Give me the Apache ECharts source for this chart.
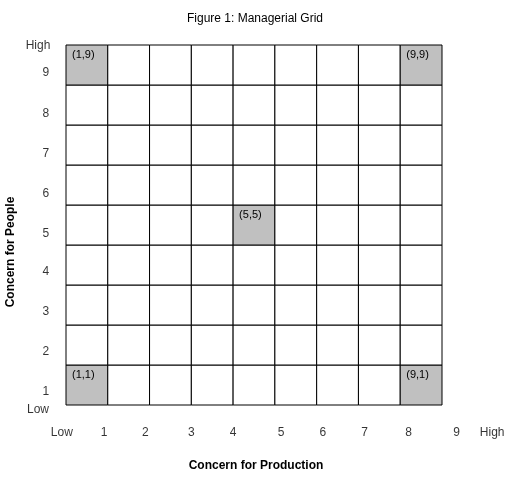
<!DOCTYPE html>
<html><head><meta charset="utf-8">
<script src="https://cdn.jsdelivr.net/npm/echarts@6/dist/echarts.min.js"></script>
<style>html,body{margin:0;padding:0;background:#fff}#c{width:512px;height:480px}</style>
</head><body><div id="c"></div>
<script>
const title = "Figure 1: Managerial Grid";
const xTitle = "Concern for Production";
const yTitle = "Concern for People";
const highlighted = [[1,9],[9,9],[5,5],[1,1],[9,1]];
const xTickLabels = ["Low","1","2","3","4","5","6","7","8","9","High"];
const xTickPos = [-0.1,0.91,1.9,3.0,4.0,5.15,6.15,7.15,8.2,9.35,10.2];
const yTickLabels = ["High","9","8","7","6","5","4","3","2","1","Low"];
const yTickPos = [8.98,8.3,7.28,6.28,5.28,4.28,3.33,2.33,1.33,0.33,-0.12];

const cells = [];
for (let i=1;i<=9;i++) for (let j=1;j<=9;j++) {
  const hl = highlighted.some(h=>h[0]===i&&h[1]===j);
  cells.push({value:[i-1,j-1], hl, name: hl?`(${i},${j})`:''});
}
const fontFamily = "Liberation Sans Narrow, Liberation Sans, Arial, sans-serif";
const chart = echarts.init(document.getElementById('c'));
chart.setOption({
  animation:false,
  title:{text:title,left:250,top:8,textAlign:'center',textStyle:{fontSize:12,fontWeight:'normal',color:'#000',fontFamily}},
  grid:{left:66,top:45,width:376,height:360},
  xAxis:{type:'value',min:0,max:9,show:false},
  yAxis:{type:'value',min:0,max:9,show:false},
  graphic:[
    {type:'text',left:'center',top:460,style:{text:xTitle,font:'bold 12px '+fontFamily,fill:'#000'}},
    {type:'text',x:11,y:252,rotation:Math.PI/2,style:{text:yTitle,font:'bold 12px '+fontFamily,fill:'#000',align:'center',verticalAlign:'middle'}}
  ],
  series:[
    {type:'custom',data:cells,
     renderItem:(params,api)=>{
       const x=api.value(0), y=api.value(1);
       const p1=api.coord([x,y+1]), p2=api.coord([x+1,y]);
       const d=cells[params.dataIndex];
       return {type:'group',children:[
         {type:'rect',shape:{x:p1[0],y:p1[1],width:p2[0]-p1[0],height:p2[1]-p1[1]},
          style:{fill:d.hl?'#c0c0c0':'#fff',stroke:'#000',lineWidth:1}},
         {type:'text',x:p1[0]+6,y:p1[1]+4,style:{text:d.name,font:'11px '+fontFamily,fill:'#000'}}
       ]};
     }},
    {type:'scatter',symbolSize:0,clip:false,silent:true,
     data:xTickLabels.map((t,i)=>({name:t,value:[xTickPos[i],-0.68]})),
     label:{show:true,position:'inside',formatter:'{b}',fontSize:12,color:'#000',fontFamily}},
    {type:'scatter',symbolSize:0,clip:false,silent:true,
     data:yTickLabels.map((t,i)=>({name:t,value:[(t==='High'||t==='Low')?-0.67:-0.48,yTickPos[i]]})),
     label:{show:true,position:'inside',formatter:'{b}',fontSize:12,color:'#000',fontFamily}}
  ]
});
</script></body></html>
